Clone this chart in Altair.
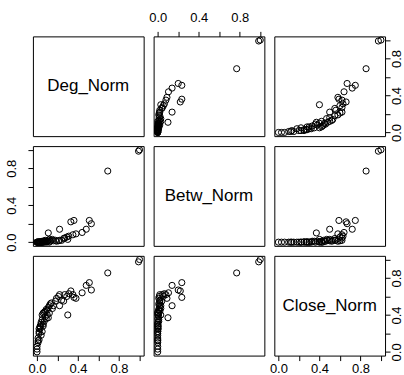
import altair as alt
import pandas as pd

names = ["Deg_Norm", "Betw_Norm", "Close_Norm"]

deg = [1.00, 0.99, 0.69, 0.51, 0.53, 0.48, 0.44, 0.33, 0.36, 0.22,
       0.11, 0.38, 0.35, 0.31, 0.29, 0.27, 0.30, 0.22, 0.21, 0.18,
       0.16, 0.14, 0.13, 0.12, 0.11, 0.10, 0.09, 0.10, 0.08, 0.07,
       0.06, 0.05, 0.09, 0.08, 0.07, 0.05, 0.06, 0.04, 0.06, 0.05,
       0.04, 0.03, 0.03, 0.03, 0.02, 0.02, 0.02, 0.01, 0.01, 0.01,
       0.00, 0.00, 0.00, 0.02, 0.04, 0.24, 0.26, 0.19, 0.15, 0.12]
betw = [1.00, 0.985, 0.77, 0.235, 0.20, 0.14, 0.105, 0.22, 0.235, 0.14,
        0.10, 0.09, 0.08, 0.065, 0.055, 0.045, 0.03, 0.02, 0.015, 0.02,
        0.015, 0.02, 0.01, 0.03, 0.02, 0.01, 0.01, 0.005, 0.02, 0.00,
        0.01, 0.00, 0.00, 0.01, 0.01, 0.01, 0.00, 0.00, 0.005, 0.00,
        0.00, 0.00, 0.00, 0.005, 0.00, 0.00, 0.00, 0.00, 0.00, 0.00,
        0.00, 0.00, 0.00, 0.00, 0.00, 0.02, 0.04, 0.01, 0.03, 0.00]
close = [1.00, 0.975, 0.855, 0.75, 0.67, 0.72, 0.64, 0.66, 0.59, 0.50,
         0.37, 0.58, 0.62, 0.63, 0.60, 0.62, 0.40, 0.62, 0.60, 0.55,
         0.50, 0.53, 0.52, 0.50, 0.48, 0.45, 0.46, 0.40, 0.44, 0.43,
         0.42, 0.40, 0.36, 0.38, 0.33, 0.35, 0.30, 0.32, 0.28, 0.22,
         0.30, 0.28, 0.27, 0.25, 0.25, 0.22, 0.20, 0.15, 0.12, 0.10,
         0.06, 0.03, 0.00, 0.13, 0.18, 0.56, 0.55, 0.58, 0.47, 0.42]

tick_values = [0.0, 0.2, 0.4, 0.6, 0.8, 1.0]
shown_labels = [0.0, 0.4, 0.8]

df = pd.DataFrame({names[0]: deg, names[1]: betw, names[2]: close})

FONT = "Liberation Sans"
DOMAIN = [-0.04, 1.04]
label_expr = " || ".join(f"datum.value == {v}" for v in shown_labels)
label_expr = f"({label_expr}) ? format(datum.value, '.1f') : ''"


def make_axis(orient):
    kw = dict(orient=orient, values=tick_values, labelExpr=label_expr,
              tickSize=5, tickColor="black", tickWidth=1, domain=False,
              grid=False, title=None, labelFont=FONT, labelFontSize=13,
              labelColor="black", labelOverlap=False)
    if orient == "top":
        kw.update(labelPadding=7)
    elif orient == "bottom":
        kw.update(labelPadding=2)
    elif orient == "left":
        kw.update(labelAngle=270, labelAlign="center", labelBaseline="bottom", labelPadding=9)
    else:
        kw.update(labelAngle=270, labelAlign="center", labelBaseline="top", labelPadding=0)
    return alt.Axis(**kw)


def x_axis(i, j):
    if i == 0 and j == 1:
        return make_axis("top")
    if i == 2 and j in (0, 2):
        return make_axis("bottom")
    return None


def y_axis(i, j):
    if j == 0 and i == 1:
        return make_axis("left")
    if j == 2 and i in (0, 2):
        return make_axis("right")
    return None


panels = []
for i in range(3):
    for j in range(3):
        xa = x_axis(i, j)
        ya = y_axis(i, j)
        scale = alt.Scale(domain=DOMAIN, nice=False, zero=False)
        xkw = dict(scale=scale, axis=xa)
        ykw = dict(scale=scale, axis=ya)
        if i == j:
            lab = pd.DataFrame({"x": [0.5], "y": [0.5], "label": [names[i]]})
            p = alt.Chart(lab).mark_text(font=FONT, fontSize=17, color="black",
                                         align="center", baseline="middle").encode(
                x=alt.X("x:Q", **xkw),
                y=alt.Y("y:Q", **ykw),
                text="label:N",
            )
        else:
            p = alt.Chart(df).mark_point(shape="circle", filled=False, color="black",
                                         size=38, strokeWidth=1, opacity=1).encode(
                x=alt.X(f"{names[j]}:Q", **xkw),
                y=alt.Y(f"{names[i]}:Q", **ykw),
            )
        panels.append(p.properties(width=111, height=100))

chart = alt.concat(*panels, columns=3, spacing=10, bounds="flush").properties(
    padding={"left": 5, "top": 10, "right": 0, "bottom": 0},
    background="white",
).configure_view(stroke="black", strokeWidth=1)

chart.save("out.html", embed_options={"renderer": "svg", "actions": False})
